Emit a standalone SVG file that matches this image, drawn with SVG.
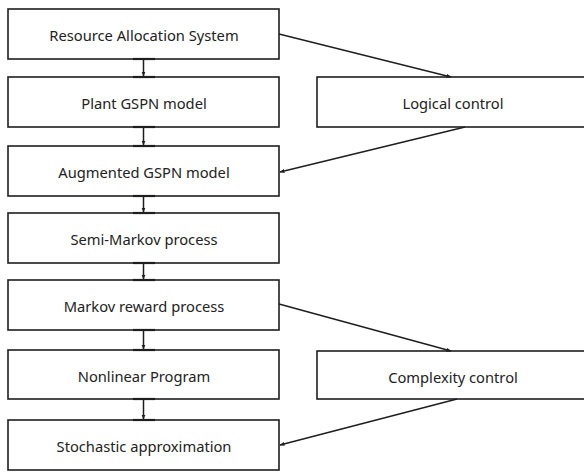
<svg xmlns="http://www.w3.org/2000/svg" width="584" height="472" viewBox="0 0 584 472">
<style>
.box{fill:#fff;stroke:#1e1e1e;stroke-width:1.6}
.lbl{font-family:"Noto Sans","Open Sans",sans-serif;font-size:14.7px;fill:#222;text-anchor:middle;dominant-baseline:central}
.con{stroke:#1e1e1e;stroke-width:1.5;fill:none}
.tee{stroke:#1e1e1e;stroke-width:2.2}
</style>
<defs>
<marker id="ah" viewBox="0 0 10 10" refX="9" refY="5" markerWidth="5" markerHeight="5" orient="auto" markerUnits="userSpaceOnUse">
<path d="M0,1 L10,5 L0,9 z" fill="#1e1e1e"/>
</marker>
</defs>
<g id="n1"><rect class="box" x="8" y="9" width="271" height="50"/><text class="lbl" x="144" y="35">Resource Allocation System</text></g>
<g id="n2"><rect class="box" x="8" y="77" width="271" height="50"/><text class="lbl" x="144" y="103">Plant GSPN model</text></g>
<g id="n3"><rect class="box" x="8" y="146" width="271" height="50"/><text class="lbl" x="144" y="172">Augmented GSPN model</text></g>
<g id="n4"><rect class="box" x="8" y="213" width="271" height="50"/><text class="lbl" x="144" y="239">Semi-Markov process</text></g>
<g id="n5"><rect class="box" x="8" y="280" width="271" height="50"/><text class="lbl" x="144" y="306">Markov reward process</text></g>
<g id="n6"><rect class="box" x="8" y="350" width="271" height="49"/><text class="lbl" x="144" y="376">Nonlinear Program</text></g>
<g id="n7"><rect class="box" x="8" y="420" width="271" height="50"/><text class="lbl" x="144" y="446">Stochastic approximation</text></g>
<g id="n8"><rect class="box" x="317" y="77" width="280" height="50"/><text class="lbl" x="453" y="103">Logical control</text></g>
<g id="n9"><rect class="box" x="317" y="351" width="280" height="48"/><text class="lbl" x="453" y="377">Complexity control</text></g>
<g id="connectors">
<line class="tee" x1="133" y1="59" x2="155" y2="59"/><line class="tee" x1="133" y1="77" x2="155" y2="77"/>
<line class="tee" x1="133" y1="127" x2="155" y2="127"/><line class="tee" x1="133" y1="146" x2="155" y2="146"/>
<line class="tee" x1="133" y1="196" x2="155" y2="196"/><line class="tee" x1="133" y1="213" x2="155" y2="213"/>
<line class="tee" x1="133" y1="263" x2="155" y2="263"/><line class="tee" x1="133" y1="280" x2="155" y2="280"/>
<line class="tee" x1="133" y1="330" x2="155" y2="330"/><line class="tee" x1="133" y1="350" x2="155" y2="350"/>
<line class="tee" x1="133" y1="399" x2="155" y2="399"/><line class="tee" x1="133" y1="420" x2="155" y2="420"/>
<line class="con" x1="143.5" y1="59" x2="143.5" y2="76" marker-end="url(#ah)"/>
<line class="con" x1="143.5" y1="127" x2="143.5" y2="145" marker-end="url(#ah)"/>
<line class="con" x1="143.5" y1="196" x2="143.5" y2="212" marker-end="url(#ah)"/>
<line class="con" x1="143.5" y1="263" x2="143.5" y2="279" marker-end="url(#ah)"/>
<line class="con" x1="143.5" y1="330" x2="143.5" y2="349" marker-end="url(#ah)"/>
<line class="con" x1="143.5" y1="399" x2="143.5" y2="419" marker-end="url(#ah)"/>
<line class="con" x1="279" y1="34" x2="451" y2="77" marker-end="url(#ah)"/>
<line class="con" x1="465" y1="127" x2="280" y2="172" marker-end="url(#ah)"/>
<line class="con" x1="279" y1="304" x2="451" y2="351" marker-end="url(#ah)"/>
<line class="con" x1="457" y1="399" x2="280" y2="445" marker-end="url(#ah)"/>
</g>
</svg>
